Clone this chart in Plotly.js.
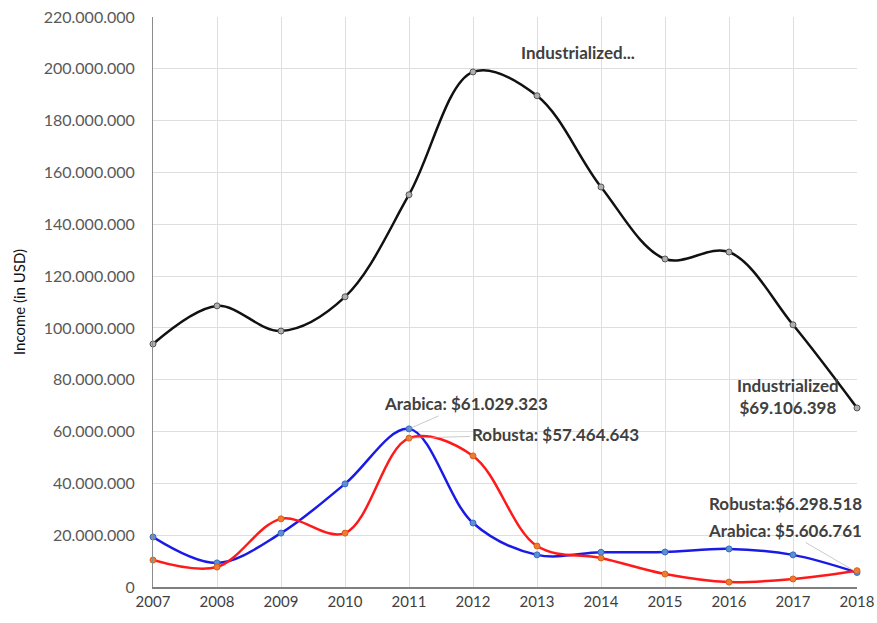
<!DOCTYPE html>
<html>
<head>
<meta charset="utf-8">
<script src="https://cdn.plot.ly/plotly-3.0.1.min.js"></script>
<style>html,body{margin:0;padding:0;background:#fff;}#chart{width:877px;height:623px;}</style>
</head>
<body>
<div id="chart"></div>
<script>
var years = [2007, 2008, 2009, 2010, 2011, 2012, 2013, 2014, 2015, 2016, 2017, 2018];
var industrialized = [93800000, 108500000, 98800000, 112000000, 151400000, 198800000, 189600000, 154400000, 126600000, 129300000, 101200000, 69106398];
var arabica = [19300000, 9300000, 20800000, 39800000, 61029323, 24700000, 12400000, 13400000, 13500000, 14700000, 12400000, 5606761];
var robusta = [10400000, 7700000, 26300000, 20800000, 57464643, 50600000, 15800000, 11200000, 5000000, 1900000, 3100000, 6298518];
var yTicks = [0, 20000000, 40000000, 60000000, 80000000, 100000000, 120000000, 140000000, 160000000, 180000000, 200000000, 220000000];

var FONT = 'Lato, "Open Sans", sans-serif';
function series(y, lineColor, mFill, mLine) {
  return {
    x: years, y: y, type: 'scatter', mode: 'lines+markers', cliponaxis: false,
    line: {color: lineColor, width: 2.5, shape: 'spline', smoothing: 1},
    marker: {size: 6, color: mFill, line: {color: mLine, width: 1}},
    hoverinfo: 'x+y'
  };
}
var traces = [
  series(industrialized, '#111111', '#b0b0b0', '#555555'),
  series(arabica, '#1a1ae6', '#5b8fd6', '#3a6cc0'),
  series(robusta, '#ff1a1a', '#ee7d31', '#d9601a')
];
var annFont = {family: FONT, size: 17, color: '#404040'};
var layout = {
  width: 877, height: 623,
  margin: {l: 153, r: 20, t: 17, b: 36},
  paper_bgcolor: '#fff', plot_bgcolor: '#fff',
  separators: ',.',
  showlegend: false,
  font: {family: FONT, size: 13, color: '#595959'},
  xaxis: {
    range: [2007, 2018], tickvals: years, ticktext: years.map(String),
    showgrid: true, gridcolor: '#dedede', gridwidth: 1,
    showline: true, linecolor: '#7f7f7f', linewidth: 1.5,
    zeroline: false, ticks: '', tickfont: {family: FONT, size: 15, color: '#404040'}
  },
  yaxis: {
    range: [0, 220000000], tickvals: yTicks, tickformat: ',d',
    showgrid: true, gridcolor: '#dedede', gridwidth: 1,
    showline: true, linecolor: '#8c8c8c', linewidth: 1,
    zeroline: false, ticks: '', ticklen: 0, ticklabelstandoff: 14,
    tickfont: {family: FONT, size: 16, color: '#595959'},
    title: {text: 'Income (in USD)', font: {family: FONT, size: 15, color: '#111'}, standoff: 14}
  },
  annotations: [
    {x: 2013.64, y: 206200000, text: '<b>Industrialized...</b>', showarrow: false, font: annFont},
    {x: years[11], y: industrialized[11], xshift: -69, yshift: 11, text: '<b>Industrialized<br>$69.106.398</b>', showarrow: false, font: annFont},
    {x: years[4], y: arabica[4], ax: 57, ay: -25, text: '<b>Arabica: $61.029.323</b>', showarrow: true, arrowhead: 0, arrowwidth: 0.6, arrowcolor: '#a6a6a6', font: annFont},
    {x: years[4], y: robusta[4], ax: 146, ay: -4, text: '<b>Robusta: $57.464.643</b>', showarrow: true, arrowhead: 0, arrowwidth: 0.6, arrowcolor: '#a6a6a6', font: annFont},
    {x: years[11], y: robusta[11], xshift: -72, yshift: 67, text: '<b>Robusta:$6.298.518</b>', showarrow: false, font: annFont},
    {x: years[11], y: arabica[11], ax: -72, ay: -42, text: '<b>Arabica: $5.606.761</b>', showarrow: true, arrowhead: 0, arrowwidth: 0.6, arrowcolor: '#a6a6a6', font: annFont}
  ]
};
Plotly.newPlot('chart', traces, layout, {displayModeBar: false, staticPlot: true});
</script>
</body>
</html>
